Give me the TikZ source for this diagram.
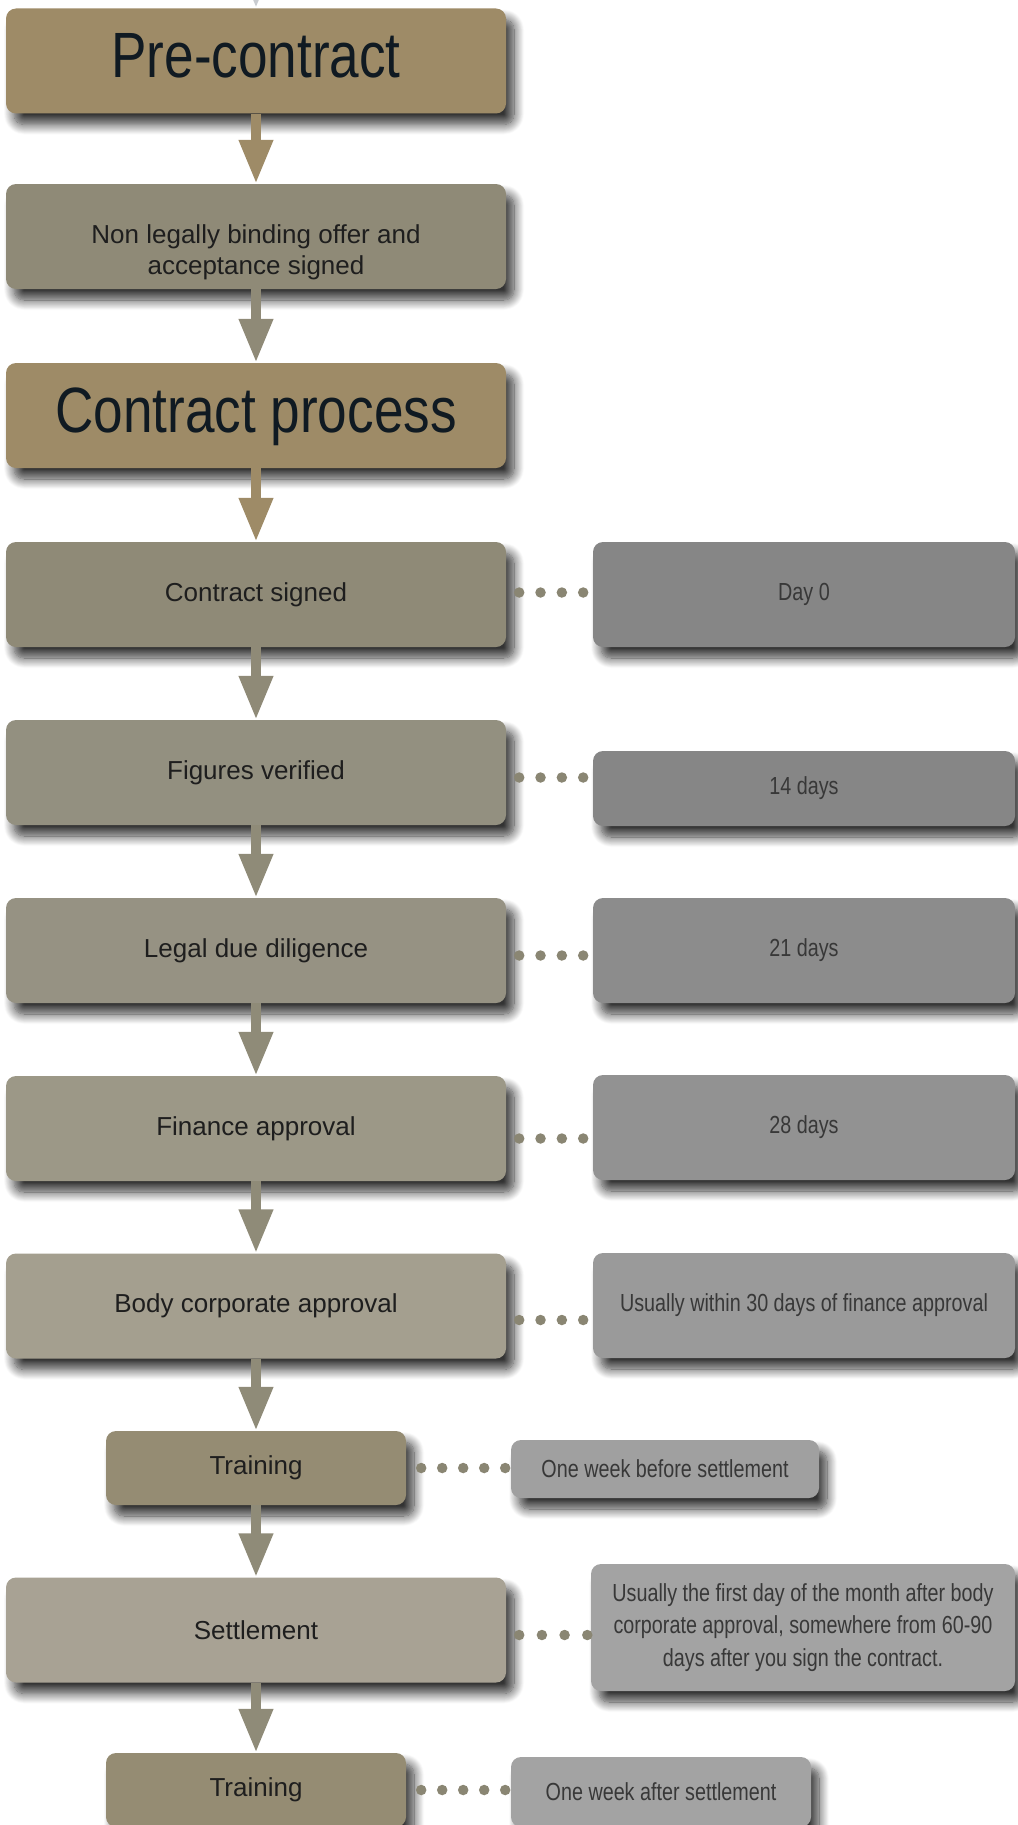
\documentclass[tikz,border=0pt]{standalone}
\usepackage{fontspec}
\setmainfont{Liberation Sans}
\newfontfamily\headfont[FakeStretch=0.83]{Liberation Sans}
\newfontfamily\notefont[FakeStretch=0.8]{Liberation Sans}
\usetikzlibrary{arrows.meta,calc,shadows.blur}
\definecolor{tanc}{HTML}{9E8B67}
\definecolor{headc}{HTML}{101A22}
\definecolor{txtc}{HTML}{1E1E1E}
\definecolor{notetxt}{HTML}{383838}
\definecolor{ca}{HTML}{8F8A77}
\definecolor{cb}{HTML}{939080}
\definecolor{cc}{HTML}{969283}
\definecolor{cd}{HTML}{9C9887}
\definecolor{ce}{HTML}{A49F8F}
\definecolor{cf}{HTML}{A8A294}
\definecolor{trc}{HTML}{958C73}
\definecolor{na}{HTML}{868686}
\definecolor{nb}{HTML}{8C8C8C}
\definecolor{nc}{HTML}{929292}
\definecolor{nd}{HTML}{9A9A9A}
\definecolor{ne}{HTML}{A0A0A0}
\definecolor{nf}{HTML}{A3A3A3}
\definecolor{arrc}{HTML}{8F8B78}
\definecolor{dotc}{HTML}{8A8673}
\definecolor{topc}{HTML}{C9CCD0}
\begin{document}
\begin{tikzpicture}[x=1pt,y=-1pt,
  box/.style={rectangle, rounded corners=10pt, inner sep=0pt,
    blur shadow={shadow xshift=8pt, shadow yshift=-11pt, shadow blur radius=10pt,
      shadow opacity=80, shadow blur steps=14}},
  mainbox/.style={box, minimum width=500pt, minimum height=105pt, text=txtc,
    font=\fontsize{26}{31}\selectfont, align=center},
  headbox/.style={mainbox, fill=tanc, text=headc,
    font=\headfont\fontsize{64}{70}\selectfont, text height=47pt, text depth=13pt},
  trainbox/.style={mainbox, minimum width=300pt, minimum height=74pt, fill=trc},
  notebox/.style={box, minimum width=422pt, minimum height=105pt, text=notetxt,
    font=\notefont\fontsize{24.7}{32.5}\selectfont, align=center},
  smallnote/.style={notebox, minimum width=308pt, minimum height=58pt},
  arr/.style={line width=10pt, -{Triangle[width=32pt,length=44pt]}},
  dotline/.style={draw=dotc, line width=10.5pt, line cap=round, dash pattern=on 0pt off #1},
  dotline/.default=21.33pt]
\useasboundingbox (0,0) rectangle (1017,1825);

% main column
\node[headbox] (pre) at (256,61) {Pre-contract};
\node[mainbox, fill=ca] (nlb) at (256,236.5) {};
\node[text=txtc, align=center, font=\fontsize{26}{31}\selectfont] (nlbtext) at (256,252.5)
  {Non legally binding offer and\\acceptance signed};
\node[headbox] (cp) at (256,415.5) {Contract process};
\node[mainbox, fill=ca] (cs) at (256,594.5) {Contract signed};
\node[mainbox, fill=cb] (fv) at (256,772.5) {Figures verified};
\node[mainbox, fill=cc] (ldd) at (256,950.5) {Legal due diligence};
\node[mainbox, fill=cd] (fa) at (256,1128.5) {Finance approval};
\node[mainbox, fill=ce] (bca) at (256,1306) {Body corporate approval};
\node[trainbox] (tr1) at (256,1468) {Training};
\node[mainbox, fill=cf] (set) at (256,1630) {Settlement};
\node[trainbox] (tr2) at (256,1790) {Training};

% notes
\node[notebox, fill=na] (n0) at (804,594.5) {Day 0};
\node[notebox, fill=na, minimum height=75pt] (n14) at (804,788.5) {14 days};
\node[notebox, fill=nb] (n21) at (804,950.5) {21 days};
\node[notebox, fill=nc] (n28) at (804,1127.5) {28 days};
\node[notebox, fill=nd] (n30) at (804,1305.5) {Usually within 30 days of finance approval};
\node[smallnote, fill=ne] (nbs) at (665,1469) {One week before settlement};
\node[notebox, fill=nf, minimum width=424pt, minimum height=127pt] (nset) at (803,1627.5)
  {Usually the first day of the month after body\\corporate approval, somewhere from 60-90\\days after you sign the contract.};
\node[smallnote, fill=nf, minimum width=300pt, minimum height=70pt] (nas) at (661,1792) {One week after settlement};

% arrows
\coordinate (topin) at (256,-60);
\draw[arr, draw=topc] (topin) -- (pre.north);
\draw[arr, draw=tanc] (pre.south) -- (nlb.north);
\draw[arr, draw=ca] (nlb.south) -- (cp.north);
\draw[arr, draw=tanc] (cp.south) -- (cs.north);
\draw[arr, draw=ca] (cs.south) -- (fv.north);
\draw[arr, draw=arrc] (fv.south) -- (ldd.north);
\draw[arr, draw=arrc] (ldd.south) -- (fa.north);
\draw[arr, draw=arrc] (fa.south) -- (bca.north);
\draw[arr, draw=arrc] (bca.south) -- (tr1.north);
\draw[arr, draw=arrc] (tr1.south) -- (set.north);
\draw[arr, draw=arrc] (set.south) -- (tr2.north);

% dotted links
\draw[dotline] ($(cs.east)+(13,-2)$) -- ($(cs.east -| n0.west)+(-8,-2)$);
\draw[dotline] ($(fv.east)+(13,5)$) -- ($(fv.east -| n14.west)+(-8,5)$);
\draw[dotline] ($(ldd.east)+(13,5)$) -- ($(ldd.east -| n21.west)+(-8,5)$);
\draw[dotline] ($(fa.east)+(13,10)$) -- ($(fa.east -| n28.west)+(-8,10)$);
\draw[dotline] ($(bca.east)+(13,14)$) -- ($(bca.east -| n30.west)+(-8,14)$);
\draw[dotline=21pt] ($(tr1.east)+(15,0)$) -- ($(tr1.east -| nbs.west)+(-4,0)$);
\draw[dotline=22.7pt] ($(set.east)+(13,5)$) -- ($(set.east -| nset.west)+(-2,5)$);
\draw[dotline=21pt] ($(tr2.east)+(15,0)$) -- ($(tr2.east -| nas.west)+(-4,0)$);
\end{tikzpicture}
\end{document}
